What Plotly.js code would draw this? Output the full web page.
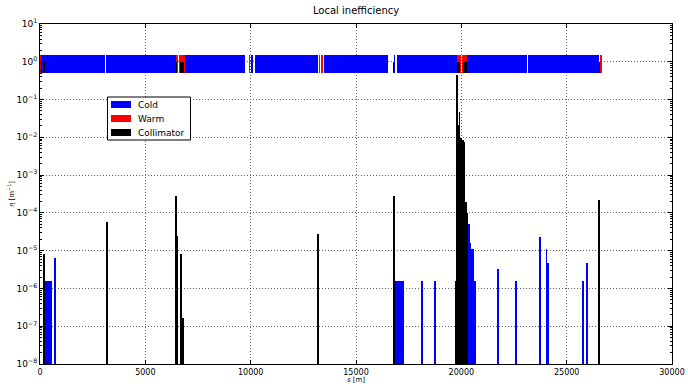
<!DOCTYPE html>
<html><head><meta charset="utf-8">
<script src="https://cdn.plot.ly/plotly-3.0.1.min.js"></script>
<style>html,body{margin:0;padding:0;background:#fff}#chart{width:688px;height:384px}</style>
</head><body><div id="chart"></div>
<script>
// ---- Data: local inefficiency bars (s [m], eta [1/m]) ----
const coldS   = [290, 350, 410, 470, 530, 700, 16900, 16980, 17060, 17150, 17240, 18120, 18765, 20350, 20420, 20480, 20560, 20650, 21730, 22600, 23735, 24045, 24130, 25760, 25980];
const coldEta = [1.6e-6, 1.6e-6, 1.6e-6, 1.6e-6, 1.6e-6, 6.5e-6, 1.6e-6, 1.6e-6, 1.6e-6, 1.6e-6, 1.6e-6, 1.6e-6, 1.6e-6, 5.2e-5, 1.6e-5, 1.1e-5, 1.1e-5, 1.6e-6, 3.2e-6, 1.6e-6, 2.3e-5, 1.1e-5, 4.8e-6, 1.6e-6, 4.8e-6];
const warmS   = [20050];
const warmEta = [1.6e-6];
const collS   = [175, 3150, 3175, 6455, 6510, 6670, 6690, 6790, 13190, 13210, 16780, 16815, 19760, 19880, 19960, 19800, 19860, 19920, 19950, 19990, 20085, 20155, 20210, 20260, 26550];
const collEta = [8.2e-6, 5.0e-5, 5.8e-5, 2.8e-4, 2.5e-5, 7.5e-6, 8.0e-6, 1.6e-7, 2.5e-5, 2.7e-5, 1.2e-6, 2.8e-4, 1.6e-6, 1.6e-6, 1.6e-6, 0.45, 0.021, 0.047, 5.0e-3, 9.4e-3, 8.5e-3, 7.7e-3, 1.9e-4, 1.0e-4, 2.2e-4];

// ---- Machine layout band (element start / end in s [m]) ----
const bandColdStart = [62, 3130, 6870, 9760, 10030, 10200, 13470, 16820, 16950, 20284, 23165];
const bandColdEnd   = [3070, 6440, 9710, 9800, 10110, 13212, 16506, 16870, 19810, 23104, 26550];
const bandWarmStart = [0, 6440, 6600, 9920, 13250, 13330, 19810, 20010, 26585];
const bandWarmEnd   = [62, 6535, 6870, 9970, 13300, 13420, 19990, 20284, 26680];
const bandCollStart = [62, 190, 3160, 6440, 6650, 13160, 16770, 19810, 20060, 26550];
const bandCollEnd   = [95, 235, 3200, 6500, 6820, 13210, 16820, 19940, 20284, 26585];

// ---- Labels ----
const categories = ['Cold', 'Warm', 'Collimator'];
const xTickVals = [0, 5000, 10000, 15000, 20000, 25000, 30000];
const xTickText = ['0', '5000', '10000', '15000', '20000', '25000', '30000'];
const yExponents = [1, 0, -1, -2, -3, -4, -5, -6, -7, -8];

const colors = ['#0000ff', '#ff0000', '#000000'];

function mid(a, b) { return a.map((v, i) => (v + b[i]) / 2); }
function wid(a, b) { return a.map((v, i) => b[i] - v); }

const BASE = 1e-8;
function mainBars(xs, ys, i, w) {
  return {type: 'bar', x: xs, y: ys, base: xs.map(() => BASE), width: xs.map(() => w),
    marker: {color: colors[i], line: {width: 0}}, name: categories[i], showlegend: false};
}
function bandBars(s, e, i, lo, h) {
  return {type: 'bar', x: mid(s, e), y: s.map(() => h), base: s.map(() => lo), width: wid(s, e),
    marker: {color: colors[i], line: {width: 0}}, name: categories[i], showlegend: false};
}

const traces = [
  bandBars(bandColdStart, bandColdEnd, 0, 0.5, 1.0),
  bandBars(bandWarmStart, bandWarmEnd, 1, 0.5, 1.0),
  bandBars(bandCollStart, bandCollEnd, 2, 0.5, 0.5),
  mainBars(coldS, coldEta, 0, 85),
  mainBars(warmS, warmEta, 1, 40),
  mainBars(collS, collEta, 2, 80)
];

// ---- Legend drawn in paper coordinates (matplotlib-style box) ----
const L = 40, R = 672, T = 24, B = 364;
const px = v => (v - L) / (R - L);
const py = v => (B - v) / (B - T);
const shapes = [{type: 'rect', xref: 'paper', yref: 'paper', x0: px(107.5), x1: px(190.5), y0: py(140), y1: py(97),
  line: {color: '#000', width: 1}, fillcolor: '#fff', layer: 'above'}];
const annotations = [];
categories.forEach((c, i) => {
  const yc = 104.5 + 14 * i;
  shapes.push({type: 'rect', xref: 'paper', yref: 'paper', x0: px(111), x1: px(131), y0: py(yc + 3.5), y1: py(yc - 3.5),
    line: {width: 0}, fillcolor: colors[i], layer: 'above'});
  annotations.push({xref: 'paper', yref: 'paper', x: px(136), y: py(yc), xanchor: 'left', yanchor: 'middle',
    text: c, showarrow: false, font: {family: 'DejaVu Sans, sans-serif', size: 9, color: '#000'}});
});

const font = {family: 'DejaVu Sans, sans-serif', color: '#000'};
const layout = {
  width: 688, height: 384,
  margin: {l: 40, r: 16, t: 24, b: 20, pad: 0},
  paper_bgcolor: '#fff', plot_bgcolor: '#fff',
  barmode: 'overlay', bargap: 0,
  font: Object.assign({size: 9}, font),
  title: {text: 'Local inefficiency', font: Object.assign({size: 10}, font), x: 0.5175, xanchor: 'center', y: 0.982, yanchor: 'top'},
  showlegend: false,
  shapes: shapes, annotations: annotations,
  xaxis: {range: [0, 30000], tickvals: xTickVals, ticktext: xTickText,
    ticks: 'inside', ticklen: 4, tickcolor: '#000', showline: true, linecolor: '#000', linewidth: 1, mirror: 'allticks',
    showgrid: true, gridcolor: '#666', griddash: '1px,2px', gridwidth: 1, zeroline: false, layer: 'above traces',
    tickfont: Object.assign({size: 8}, font),
    title: {text: '<i>s</i> [m]', font: Object.assign({size: 7}, font), standoff: 2}},
  yaxis: {type: 'log', range: [-8, 1],
    tickvals: yExponents.map(e => Math.pow(10, e)),
    ticktext: yExponents.map(e => '10<sup>' + (e < 0 ? '−' + (-e) : e) + '</sup>'),
    ticks: 'inside', ticklen: 4, tickcolor: '#000', showline: true, linecolor: '#000', linewidth: 1, mirror: 'allticks',
    minor: {dtick: 'D1', ticks: 'inside', ticklen: 2, tickcolor: '#000', showgrid: false},
    showgrid: true, gridcolor: '#666', griddash: '1px,2px', gridwidth: 1, zeroline: false, layer: 'above traces',
    tickfont: Object.assign({size: 9}, font),
    title: {text: '<i>η</i> [m<sup>−1</sup>]', font: Object.assign({size: 7}, font), standoff: 1}}
};

Plotly.newPlot('chart', traces, layout, {displayModeBar: false, staticPlot: true});
</script></body></html>
